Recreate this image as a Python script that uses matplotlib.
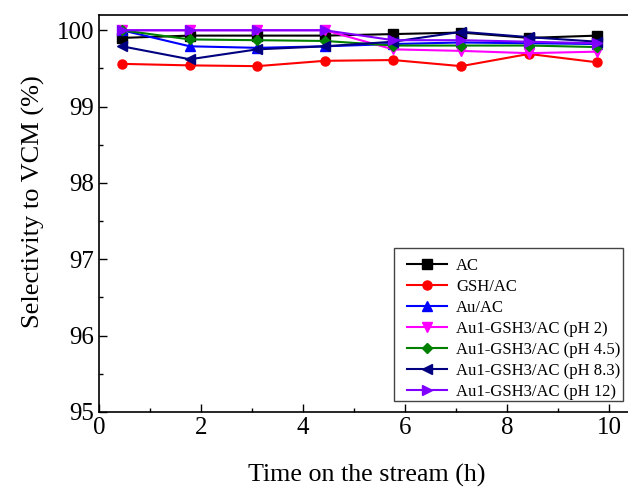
import matplotlib
matplotlib.use("Agg")
import matplotlib.pyplot as plt
from matplotlib.ticker import MultipleLocator
from matplotlib.patches import Rectangle

plt.rcParams['font.family'] = ['Liberation Serif', 'DejaVu Serif']

time_h = [0.45, 1.78, 3.1, 4.43, 5.77, 7.1, 8.43, 9.77]

labels = ["AC", "GSH/AC", "Au/AC", "Au1-GSH3/AC (pH 2)", "Au1-GSH3/AC (pH 4.5)",
          "Au1-GSH3/AC (pH 8.3)", "Au1-GSH3/AC (pH 12)"]
ac       = [99.90, 99.93, 99.93, 99.93, 99.95, 99.97, 99.90, 99.93]
gsh_ac   = [99.56, 99.54, 99.53, 99.60, 99.61, 99.53, 99.69, 99.58]
au_ac    = [100.0, 99.79, 99.77, 99.79, 99.82, 99.84, 99.83, 99.82]
ph2      = [100.0, 100.0, 100.0, 100.0, 99.75, 99.73, 99.70, 99.72]
ph45     = [100.0, 99.88, 99.87, 99.86, 99.80, 99.80, 99.80, 99.78]
ph83     = [99.79, 99.62, 99.75, 99.79, 99.85, 99.98, 99.91, 99.85]
ph12     = [100.0, 100.0, 100.0, 100.0, 99.87, 99.87, 99.85, 99.83]

series = [ac, gsh_ac, au_ac, ph2, ph45, ph83, ph12]
colors = ["#000000", "#FF0000", "#0000FF", "#FF00FF", "#008000", "#000080", "#7F00FF"]
markers = ["s", "o", "^", "v", "D", "<", ">"]

fig = plt.figure(figsize=(6.28, 4.88), dpi=100)
ax = fig.add_axes([99/628, 1 - 412/488, 535.5/628, (412 - 15)/488])

for vals, c, m, lab in zip(series, colors, markers, labels):
    ax.plot(time_h, vals, color=c, marker=m, markersize=6.5 if m != "D" else 5.5,
            linewidth=1.5, label=lab)

ax.set_xlim(0, 10.5)
ax.set_ylim(95, 100.2)
ax.xaxis.set_major_locator(MultipleLocator(2))
ax.xaxis.set_minor_locator(MultipleLocator(1))
ax.yaxis.set_major_locator(MultipleLocator(1))
ax.yaxis.set_minor_locator(MultipleLocator(0.5))
ax.tick_params(which='both', direction='in', labelsize=18, width=1)
ax.tick_params(which='major', length=6)
ax.tick_params(which='minor', length=3)
for s in ax.spines.values():
    s.set_linewidth(1.2)

ax.set_xlabel("Time on the stream (h)", fontsize=18.7, labelpad=18)
ax.set_ylabel("Selectivity to VCM (%)", fontsize=19)
ax.yaxis.set_label_coords(-0.101, 0.531)

# legend frame
frame = Rectangle((394/628, 1 - 401/488), 229/628, 153/488, transform=fig.transFigure,
                  facecolor='white', edgecolor='#444444', linewidth=1.0, zorder=5)
fig.add_artist(frame)

leg = ax.legend(loc='upper left', bbox_to_anchor=(407/628, 1 - 258/488),
                bbox_transform=fig.transFigure, fontsize=12, frameon=False,
                handlelength=2.4, labelspacing=0.30, borderpad=0,
                handletextpad=0.55, borderaxespad=0)
leg.set_zorder(6)
fig.add_artist(leg)

fig.savefig("out.png", dpi=100)
